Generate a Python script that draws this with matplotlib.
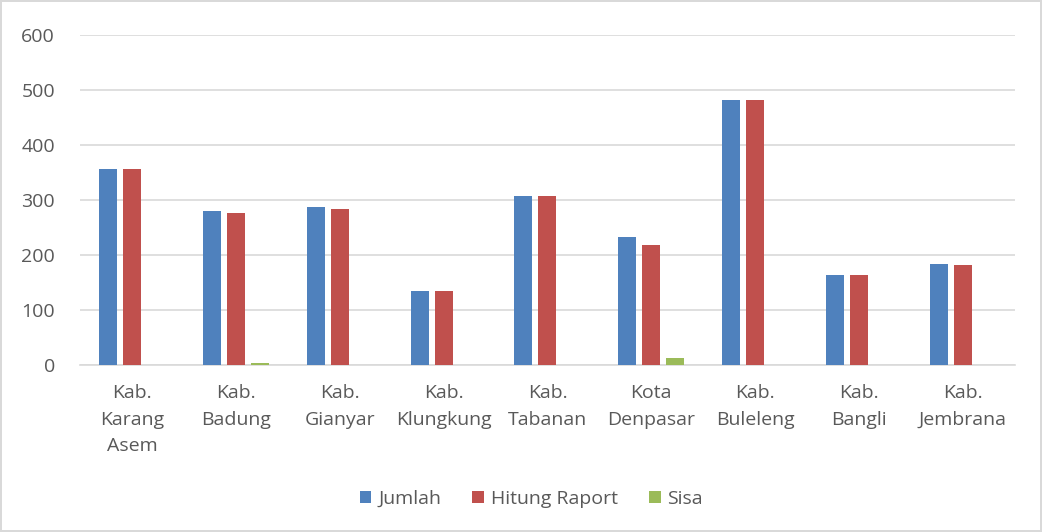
import numpy as np
import matplotlib
matplotlib.use("Agg")
import matplotlib.pyplot as plt

categories = ["Kab.\nKarang\nAsem", "Kab.\nBadung", "Kab.\nGianyar", "Kab.\nKlungkung",
              "Kab.\nTabanan", "Kota\nDenpasar", "Kab.\nBuleleng", "Kab.\nBangli", "Kab.\nJembrana"]
jumlah = [356, 280, 287, 135, 308, 232, 481, 163, 184]
hitung_raport = [356, 277, 284, 135, 308, 219, 481, 163, 181]
sisa = [0, 4, 0, 0, 0, 12, 0, 0, 0]

plt.rcParams['font.family'] = ['Open Sans', 'DejaVu Sans']
text_color = "#595959"

fig = plt.figure(figsize=(10.42, 5.32), dpi=100)
fig.patch.set_edgecolor("#d9d9d9")
fig.patch.set_linewidth(1.5)
ax = fig.add_axes([0.0768, 0.3139, 0.8972, 0.6203])

x = np.arange(len(categories))
w = 0.173
off = 0.231
ax.bar(x - off, jumlah, w, color="#4f81bd", label="Jumlah", zorder=3)
ax.bar(x, hitung_raport, w, color="#c0504d", label="Hitung Raport", zorder=3)
ax.bar(x + off, sisa, w, color="#9bbb59", label="Sisa", zorder=3)

ax.set_xlim(-0.5, len(categories) - 0.5)
ax.set_ylim(0, 600)
ax.set_yticks(range(0, 601, 100))
ax.yaxis.grid(True, color="#d9d9d9", linewidth=1.2, zorder=0)
for s in ["top", "right", "left"]:
    ax.spines[s].set_visible(False)
ax.spines["bottom"].set_color("#d9d9d9")
ax.spines["bottom"].set_linewidth(1.2)
ax.tick_params(axis="both", length=0, colors=text_color, labelsize=14)
ax.tick_params(axis="y", pad=18)
ax.tick_params(axis="x", pad=14)
ax.set_xticks(x)
ax.set_xticklabels(categories, linespacing=1.6)

leg = fig.legend(loc="center", bbox_to_anchor=(0.51, 0.062), ncol=3, frameon=False,
                 handlelength=0.6, handleheight=0.6, columnspacing=1.6, handletextpad=0.35,
                 fontsize=14)
for t in leg.get_texts():
    t.set_color(text_color)

fig.savefig("out.png", dpi=100)
